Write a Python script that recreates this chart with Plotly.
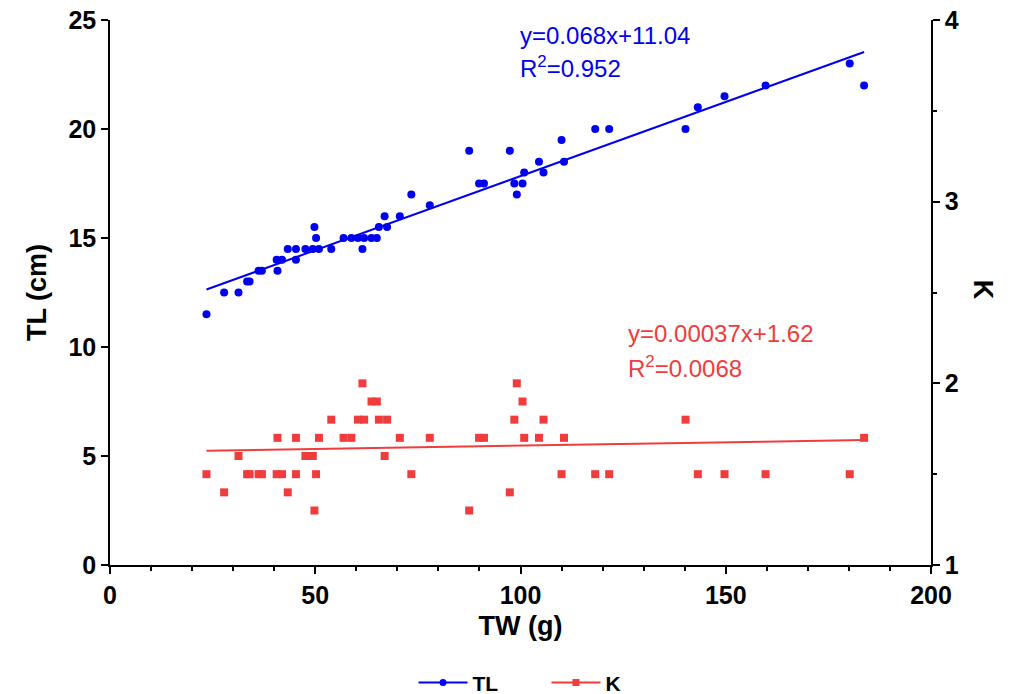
import plotly.graph_objects as go

# ---- data ----
TW = [23.5, 27.8, 31.3, 33.4, 34.0, 36.2, 37.0, 40.8, 40.6, 41.9,
      45.3, 43.3, 45.3, 47.6, 49.4, 50.9, 49.8, 50.2, 53.9, 56.9,
      58.8, 60.4, 61.9, 63.7, 65.0, 61.5, 65.5, 67.5, 66.9, 70.6,
      73.4, 77.9, 87.5, 89.9, 91.1, 97.4, 98.5, 100.5, 99.1, 100.9,
      104.5, 105.6, 110.0, 110.6, 118.2, 121.6, 140.2, 143.2, 149.7, 159.7,
      180.2, 183.7]
TL = [11.5, 12.5, 12.5, 13.0, 13.0, 13.5, 13.5, 13.5, 14.0, 14.0,
      14.0, 14.5, 14.5, 14.5, 14.5, 14.5, 15.5, 15.0, 14.5, 15.0,
      15.0, 15.0, 15.0, 15.0, 15.0, 14.5, 15.5, 15.5, 16.0, 16.0,
      17.0, 16.5, 19.0, 17.5, 17.5, 19.0, 17.5, 17.5, 17.0, 18.0,
      18.5, 18.0, 19.5, 18.5, 20.0, 20.0, 20.0, 21.0, 21.5, 22.0,
      23.0, 22.0]
K = [1.5, 1.4, 1.6, 1.5, 1.5, 1.5, 1.5, 1.7, 1.5, 1.5,
     1.7, 1.4, 1.5, 1.6, 1.6, 1.7, 1.3, 1.5, 1.8, 1.7,
     1.7, 1.8, 1.8, 1.9, 1.9, 2.0, 1.8, 1.8, 1.6, 1.7,
     1.5, 1.7, 1.3, 1.7, 1.7, 1.4, 1.8, 1.9, 2.0, 1.7,
     1.7, 1.8, 1.5, 1.7, 1.5, 1.5, 1.8, 1.5, 1.5, 1.5,
     1.5, 1.7]

TL_SLOPE, TL_INT = 0.068, 11.04
K_SLOPE, K_INT = 0.00037, 1.62
TL_EQ = ["y=0.068x+11.04", "R<sup>2</sup>=0.952"]
K_EQ = ["y=0.00037x+1.62", "R<sup>2</sup>=0.0068"]

BLUE = "rgb(0,0,240)"
RED = "rgb(240,60,60)"
FONT = "Arial, Liberation Sans, sans-serif"

xfit = [min(TW), max(TW)]
tl_fit = [TL_SLOPE * x + TL_INT for x in xfit]
k_fit = [K_SLOPE * x + K_INT for x in xfit]

fig = go.Figure()
fig.add_trace(go.Scatter(x=TW, y=TL, mode="markers", showlegend=False,
                         marker=dict(symbol="circle", size=8, color=BLUE)))
fig.add_trace(go.Scatter(x=xfit, y=tl_fit, mode="lines", showlegend=False,
                         line=dict(color=BLUE, width=2)))
fig.add_trace(go.Scatter(x=TW, y=K, mode="markers", showlegend=False, yaxis="y2",
                         marker=dict(symbol="square", size=8, color=RED)))
fig.add_trace(go.Scatter(x=xfit, y=k_fit, mode="lines", showlegend=False, yaxis="y2",
                         line=dict(color=RED, width=2)))
# legend entries
fig.add_trace(go.Scatter(x=[None], y=[None], mode="lines+markers", name="TL",
                         line=dict(color=BLUE, width=2),
                         marker=dict(symbol="circle", size=7, color=BLUE)))
fig.add_trace(go.Scatter(x=[None], y=[None], mode="lines+markers", name="K",
                         line=dict(color=RED, width=2),
                         marker=dict(symbol="square", size=7, color=RED)))

axis_common = dict(showgrid=False, zeroline=False, showline=True, linecolor="black",
                   linewidth=1.5, ticks="outside", ticklen=7, tickwidth=1.5,
                   tickcolor="black", automargin=False,
                   tickfont=dict(family=FONT, size=25, color="black", weight="bold"))

TITLE_FONT = dict(family=FONT, size=27, color="black", weight="bold")

fig.update_layout(
    width=1021, height=694,
    margin=dict(l=110, r=90, t=20, b=129, autoexpand=False),
    paper_bgcolor="white", plot_bgcolor="white",
    xaxis=dict(range=[0, 200], tickvals=[0, 50, 100, 150, 200],
               minor=dict(dtick=10, ticklen=4, tickwidth=1.5, tickcolor="black", ticks="outside"),
               title=dict(text="TW (g)", font=TITLE_FONT, standoff=8),
               **axis_common),
    yaxis=dict(range=[0, 25], tickvals=[0, 5, 10, 15, 20, 25],
               title=dict(text="TL (cm)", font=TITLE_FONT, standoff=14),
               **axis_common),
    yaxis2=dict(range=[1, 4], tickvals=[1, 2, 3, 4], overlaying="y", side="right",
                minor=dict(dtick=0.5, ticklen=4, tickwidth=1.5, tickcolor="black", ticks="outside"),
                **axis_common),
    legend=dict(orientation="h", x=0.3697, xanchor="left", y=0.016, yanchor="middle",
                yref="container",
                font=dict(family=FONT, size=21, color="black", weight="bold"),
                itemwidth=49, entrywidth=69, entrywidthmode="pixels"),
    showlegend=True,
)

fig.add_annotation(text="K", xref="paper", yref="paper", x=1.084, y=0.505,
                   showarrow=False, textangle=90,
                   font=TITLE_FONT)

for i, t in enumerate(TL_EQ):
    fig.add_annotation(text=t, xref="x", yref="y", x=99.5, y=[24.3, 22.85][i],
                       xanchor="left", yanchor="middle", showarrow=False,
                       font=dict(family=FONT, size=24, color=BLUE))
for i, t in enumerate(K_EQ):
    fig.add_annotation(text=t, xref="x", yref="y2", x=125.8, y=[2.277, 2.09][i],
                       xanchor="left", yanchor="middle", showarrow=False,
                       font=dict(family=FONT, size=24, color=RED))

fig.write_html("out.html")
